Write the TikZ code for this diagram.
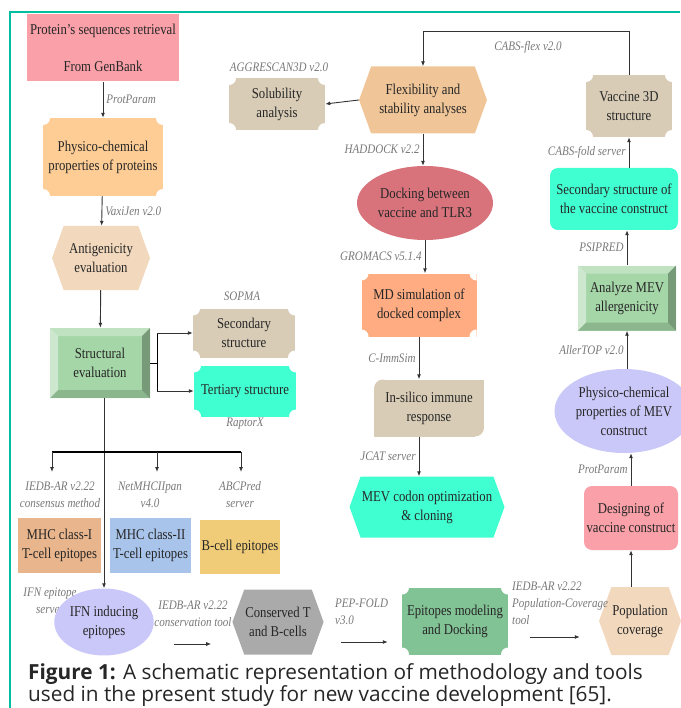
\documentclass[tikz,border=0pt]{standalone}
\usepackage{fontspec}
\usetikzlibrary{shapes.geometric,shapes.symbols,arrows.meta}
\newfontfamily\boxfont[FakeStretch=0.85]{Liberation Serif}
\newfontfamily\capfont{Open Sans}
\definecolor{pnk}{RGB}{249,160,168}
\definecolor{pch}{RGB}{254,205,150}
\definecolor{bge}{RGB}{242,217,190}
\definecolor{grn}{RGB}{165,214,167}
\definecolor{tnx}{RGB}{216,204,182}
\definecolor{aqu}{RGB}{64,255,208}
\definecolor{mhx}{RGB}{232,181,140}
\definecolor{blx}{RGB}{168,196,234}
\definecolor{ylx}{RGB}{240,204,120}
\definecolor{lav}{RGB}{202,200,248}
\definecolor{gyx}{RGB}{170,170,170}
\definecolor{gdk}{RGB}{130,195,150}
\definecolor{flx}{RGB}{240,198,152}
\definecolor{rdx}{RGB}{216,115,124}
\definecolor{orx}{RGB}{255,172,130}
\definecolor{tea}{RGB}{0,190,160}
\definecolor{gry}{RGB}{120,120,120}
\tikzset{
    blk/.style={align=center,inner sep=1pt,text=black!85,font=\boxfont\fontsize{15}{19}\selectfont},
    rbox/.style={blk,rectangle,fill=#1},
    rrnd/.style={blk,rectangle,rounded corners=8pt,fill=#1},
    oval/.style={blk,ellipse,fill=#1},
    hexa/.style={blk,signal,signal to=east and west,signal pointer angle=140,fill=#1},
    plaque/.style={blk,rectangle,fill=#1,path picture={
        \foreach \c in {north west,north east,south west,south east}
            \fill[white] (path picture bounding box.\c) circle[radius=7pt];
    }},
    bevel/.style={blk,rectangle,fill=#1,path picture={
        \fill[white,opacity=.3] (path picture bounding box.north west) -- (path picture bounding box.north east)
            -- ([shift={(-8pt,-8pt)}]path picture bounding box.north east) -- ([shift={(8pt,-8pt)}]path picture bounding box.north west) -- cycle;
        \fill[white,opacity=.45] (path picture bounding box.north west) -- (path picture bounding box.south west)
            -- ([shift={(8pt,8pt)}]path picture bounding box.south west) -- ([shift={(8pt,-8pt)}]path picture bounding box.north west) -- cycle;
        \fill[black,opacity=.15] (path picture bounding box.south west) -- (path picture bounding box.south east)
            -- ([shift={(-8pt,8pt)}]path picture bounding box.south east) -- ([shift={(8pt,8pt)}]path picture bounding box.south west) -- cycle;
        \fill[black,opacity=.28] (path picture bounding box.north east) -- (path picture bounding box.south east)
            -- ([shift={(-8pt,8pt)}]path picture bounding box.south east) -- ([shift={(-8pt,-8pt)}]path picture bounding box.north east) -- cycle;
    }},
    insil/.style={blk,rectangle,fill=tnx,path picture={
        \fill[white] (path picture bounding box.north west) rectangle ++(9pt,-9pt);
        \fill[tnx] ([shift={(9pt,-9pt)}]path picture bounding box.north west) circle[radius=9pt];
        \fill[white] (path picture bounding box.south east) rectangle ++(-9pt,9pt);
        \fill[tnx] ([shift={(-9pt,9pt)}]path picture bounding box.south east) circle[radius=9pt];
    }},
    tool/.style={font=\boxfont\itshape\fontsize{13}{17}\selectfont,text=gry,align=center,inner sep=3pt},
    arr/.style={draw=black!80,line width=0.9pt,-{Latex[length=5pt,width=4pt]}}
}
\begin{document}
\begin{tikzpicture}[x=1pt,y=1pt]
    \useasboundingbox (0,0) rectangle (680,-708);
    \draw[tea,line width=1.5pt] (680,-12) -- (10,-12) -- (10,-708);
    % left column
    \node[rbox=pnk,minimum width=152pt,minimum height=67pt] (gb) at (103,-48)
        {Protein’s sequences retrieval\\[18pt]From GenBank};
    \node[plaque=pch,minimum width=120pt,minimum height=78pt] (pcp) at (103,-157)
        {Physico-chemical\\properties of proteins};
    \node[hexa=bge,minimum width=98pt,minimum height=64pt] (ant) at (101,-258)
        {Antigenicity\\evaluation};
    \node[bevel=grn,minimum width=100pt,minimum height=70pt] (str) at (100,-363)
        {Structural\\evaluation};
    \node[plaque=tnx,minimum width=102pt,minimum height=49pt] (sec) at (244,-333)
        {Secondary\\structure};
    \node[plaque=aqu,minimum width=102pt,minimum height=51pt] (ter) at (245,-391)
        {Tertiary structure};
    \node[tool] (lso) at (242,-296) {SOPMA};
    \node[tool] (lra) at (245,-424) {RaptorX};
    % epitopes
    \node[tool] (lm1) at (60,-495) {IEDB-AR v2.22\\consensus method};
    \node[tool] (lm2) at (150,-495) {NetMHCIIpan\\v4.0};
    \node[tool] (lbc) at (240,-495) {ABCPred\\server};
    \node[rbox=mhx,minimum width=83pt,minimum height=55pt] (mh1) at (59.5,-545.5)
        {MHC class-I\\T-cell epitopes};
    \node[rbox=blx,minimum width=81pt,minimum height=55pt] (mh2) at (150.5,-545.5)
        {MHC class-II\\T-cell epitopes};
    \node[rbox=ylx,minimum width=80pt,minimum height=54pt] (bce) at (240,-547)
        {B-cell epitopes};
    % bottom row
    \node[tool] (lif) at (50,-601) {IFN epitope\\server};
    \node[oval=lav,minimum width=81pt,minimum height=67pt] (ifn) at (104,-622)
        {IFN inducing\\epitopes};
    \node[hexa=gyx,minimum width=80pt,minimum height=65pt] (con) at (278,-622)
        {Conserved T\\and B-cells};
    \node[plaque=gdk,minimum width=106pt,minimum height=67pt] (epi) at (455,-621)
        {Epitopes modeling\\and Docking};
    \node[hexa=bge,minimum width=72pt,minimum height=68pt] (pop) at (640,-621)
        {Population\\coverage};
    \node[tool] (lcs) at (193,-614) {IEDB-AR v2.22\\conservation tool};
    \node[tool,anchor=west,align=left] (lpf) at (332,-612) {PEP-FOLD\\v3.0};
    \node[tool,anchor=west,align=left] (lpc) at (509,-603) {IEDB-AR v2.22\\Population-Coverage\\tool};
    % right column
    \node[rrnd=pnk,minimum width=94pt,minimum height=64pt] (des) at (631,-518)
        {Designing of\\vaccine construct};
    \node[oval=lav,minimum width=116pt,minimum height=84pt] (mev) at (624,-411)
        {Physico-chemical\\properties of MEV\\construct};
    \node[bevel=grn,minimum width=98pt,minimum height=65pt] (alg) at (627,-298)
        {Analyze MEV\\allergenicity};
    \node[rrnd=aqu,minimum width=128pt,minimum height=62pt] (svc) at (614,-199)
        {Secondary structure of\\the vaccine construct};
    \node[plaque=tnx,minimum width=86pt,minimum height=62pt] (v3d) at (629,-106)
        {Vaccine 3D\\structure};
    % middle column
    \node[hexa=flx,minimum width=128pt,minimum height=67pt] (fls) at (423,-100)
        {Flexibility and\\stability analyses};
    \node[plaque=tnx,minimum width=96pt,minimum height=52pt] (sol) at (277,-104)
        {Solubility\\analysis};
    \node[tool] (lag) at (279,-67) {AGGRESCAN3D v2.0};
    \node[tool] (lcf) at (528,-47) {CABS-flex v2.0};
    \node[oval=rdx,minimum width=112pt,minimum height=74pt] (dck) at (425,-203)
        {Docking between\\vaccine and TLR3};
    \node[plaque=orx,minimum width=115pt,minimum height=63pt] (mds) at (419,-305)
        {MD simulation of\\docked complex};
    \node[insil,minimum width=110pt,minimum height=57pt] (ins) at (429,-408)
        {In-silico immune\\response};
    \node[hexa=aqu,minimum width=155pt,minimum height=61pt] (cod) at (427,-507)
        {MEV codon optimization\\\& cloning};
    % connectors
    \draw[arr] (gb) -- node[tool,right] {ProtParam} (pcp);
    \draw[arr] (pcp) -- node[tool,right] {VaxiJen v2.0} (ant);
    \draw[arr] (ant) -- (str);
    \draw[line width=0.9pt] (str.east) -- ++(7,0) coordinate (sj);
    \draw[line width=0.9pt] (sj |- sec) -- (sj |- ter);
    \draw[arr] (sj |- sec) -- (sec);
    \draw[arr] (sj |- ter) -- (ter);
    \draw[arr] (str.south -| ifn.north) -- (ifn.north);
    \coordinate (b1) at (52,-452);
    \coordinate (b3) at (241,-452);
    \draw[line width=1.1pt] (b1) -- (b3);
    \foreach \x in {52,157,241} {
        \draw[arr] (\x,-452) -- (\x,-472);
    }
    \draw[arr,shorten <=20pt,shorten >=21pt] ([yshift=-22pt]ifn.east) -- ([yshift=-22pt]ifn.east -| con.west);
    \draw[arr,shorten <=17pt,shorten >=14pt] ([yshift=-20pt]con.east) -- ([yshift=-20pt]con.east -| epi.west);
    \draw[arr,shorten <=22pt,shorten >=19pt] ([yshift=-16pt]epi.east) -- ([yshift=-16pt]epi.east -| pop.west);
    \draw[arr] (des.south |- pop.north) -- (des.south);
    \draw[arr] (des.north) -- node[tool,left] {ProtParam} (des.north |- mev.south);
    \draw[arr] (alg.south |- mev.north) -- node[tool,left] {AllerTOP v2.0} (alg.south);
    \draw[arr] (alg.north) -- node[tool,left] {PSIPRED} (alg.north |- svc.south);
    \draw[arr] (v3d.south |- svc.north) -- node[tool,left] {CABS-fold server} (v3d.south);
    \draw[arr] (v3d.north) -- ++(0,43) -| (fls.north);
    \draw[arr] (fls.west) -- (sol.east);
    \draw[arr] (fls.south) -- node[tool,left] {HADDOCK v2.2} (fls.south |- dck.north);
    \draw[arr] (dck.south) -- node[tool,left] {GROMACS v5.1.4} (dck.south |- mds.north);
    \draw[arr] (mds.south) -- node[tool,left] {C-ImmSim} (mds.south |- ins.north);
    \draw[arr] (mds.south |- ins.south) -- node[tool,left] {JCAT server} (mds.south |- cod.north);
    % caption
    \node[anchor=base west,inner sep=0pt,font=\capfont\fontsize{20.8}{25}\selectfont,text=black!85] (cp1) at (28,-679)
        {\textbf{Figure 1:} A schematic representation of methodology and tools};
    \node[anchor=base west,inner sep=0pt,font=\capfont\fontsize{20.8}{25}\selectfont,text=black!85] (cp2) at (28,-701)
        {used in the present study for new vaccine development [65].};
\end{tikzpicture}
\end{document}
